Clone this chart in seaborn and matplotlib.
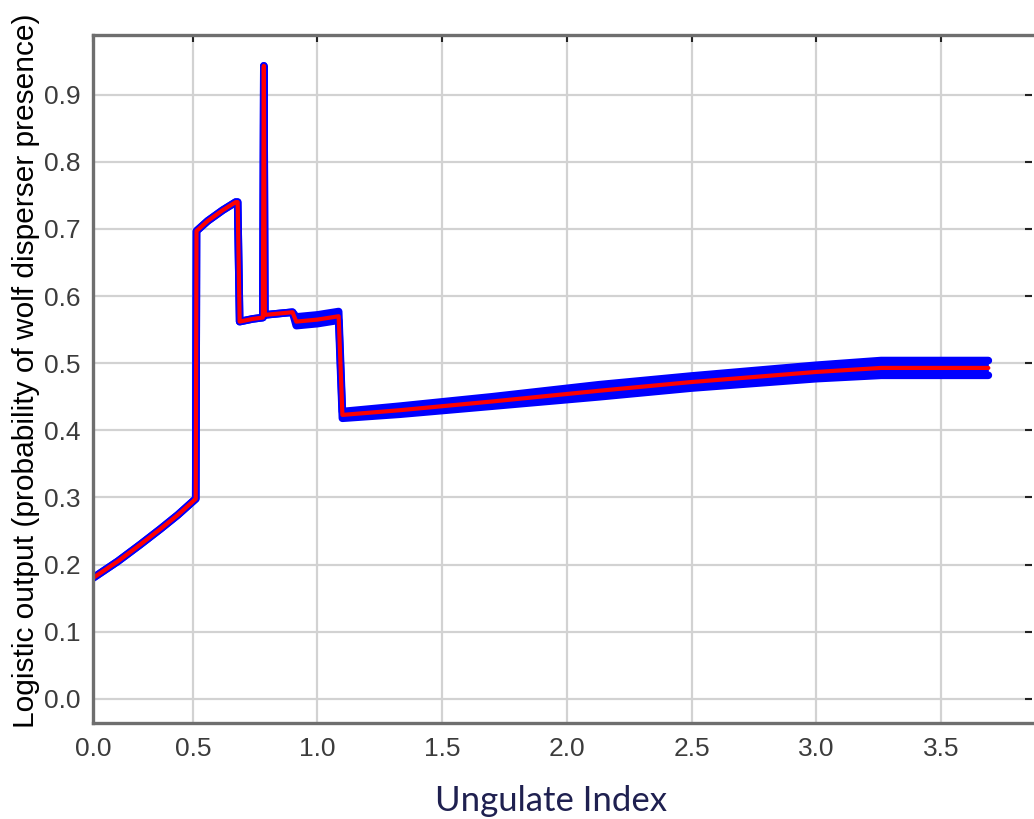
import matplotlib
matplotlib.use("Agg")
import matplotlib.pyplot as plt
import seaborn as sns
import pandas as pd

# values
ungulate_index = [0.10, 0.20, 0.29, 0.37, 0.44, 0.512, 0.515, 0.56, 0.62, 0.672,
                  0.680, 0.688, 0.74, 0.781, 0.785, 0.789, 0.90, 0.915, 1.00, 1.085,
                  1.10, 1.33, 1.70, 2.13, 2.50, 3.00, 3.26, 3.69]
logistic_mean = [0.180, 0.205, 0.230, 0.253, 0.274, 0.298, 0.697, 0.712, 0.728, 0.740,
                 0.740, 0.562, 0.566, 0.568, 0.943, 0.572, 0.576, 0.562, 0.565, 0.570,
                 0.423, 0.430, 0.443, 0.459, 0.472, 0.487, 0.493, 0.493]
logistic_low = [0.180, 0.205, 0.230, 0.253, 0.274, 0.298, 0.697, 0.712, 0.728, 0.740,
                0.740, 0.562, 0.566, 0.568, 0.943, 0.572, 0.576, 0.556, 0.559, 0.564,
                0.418, 0.424, 0.436, 0.450, 0.463, 0.477, 0.482, 0.482]
logistic_high = [0.180, 0.205, 0.230, 0.253, 0.274, 0.298, 0.697, 0.712, 0.728, 0.740,
                 0.740, 0.562, 0.566, 0.568, 0.943, 0.572, 0.576, 0.569, 0.572, 0.577,
                 0.428, 0.436, 0.450, 0.468, 0.481, 0.497, 0.504, 0.504]

x_ticks = [0.1, 0.5, 1.0, 1.5, 2.0, 2.5, 3.0, 3.5]
x_tick_labels = ["0.0", "0.5", "1.0", "1.5", "2.0", "2.5", "3.0", "3.5"]
y_ticks = [0.0, 0.1, 0.2, 0.3, 0.4, 0.5, 0.6, 0.7, 0.8, 0.9]

df = pd.DataFrame({"x": ungulate_index, "mean": logistic_mean,
                   "low": logistic_low, "high": logistic_high})

sns.set_style("white")
plt.rcParams["font.family"] = ["Liberation Sans", "DejaVu Sans"]

fig = plt.figure(figsize=(10.34, 8.19), dpi=100)
ax = fig.add_axes([93 / 1034, 1 - 723 / 819, 939 / 1034, 688 / 819])

# blue band (spread) then red mean line on top
ax.fill_between(df["x"], df["low"], df["high"], color="#0000ff", lw=0)
sns.lineplot(data=df, x="x", y="low", color="#0000ff", lw=5.5, sort=False,
             estimator=None, ax=ax)
sns.lineplot(data=df, x="x", y="high", color="#0000ff", lw=5.5, sort=False,
             estimator=None, ax=ax)
sns.lineplot(data=df, x="x", y="mean", color="#ff0000", lw=3.0, sort=False,
             estimator=None, ax=ax)

ax.set_xlim(0.1, 3.865)
ax.set_ylim(-0.036, 0.989)
ax.set_xticks(x_ticks)
ax.set_xticklabels(x_tick_labels)
ax.set_yticks(y_ticks)
ax.set_yticklabels([f"{v:.1f}" for v in y_ticks])

ax.grid(True, color="#d2d2d2", lw=1.6)
ax.set_axisbelow(True)

for side in ["left", "bottom", "top"]:
    ax.spines[side].set_color("#6e6e6e")
    ax.spines[side].set_linewidth(2.4)
ax.spines["right"].set_visible(False)

ax.tick_params(axis="both", direction="in", length=5, width=1.5, color="#222222",
               labelsize=19, labelcolor="#3c3c3c", top=True, right=True)
ax.tick_params(axis="x", pad=10)
ax.tick_params(axis="y", pad=9)

ax.set_ylabel("Logistic output (probability of wolf disperser presence)",
              fontsize=21.5, color="black")
ax.yaxis.set_label_coords(-0.056, 0.512)
ax.set_xlabel("Ungulate Index", fontsize=25, color="#1f2050", family="Lato")
ax.xaxis.set_label_coords(0.488, -0.09)

plt.savefig("out.png", dpi=100)
